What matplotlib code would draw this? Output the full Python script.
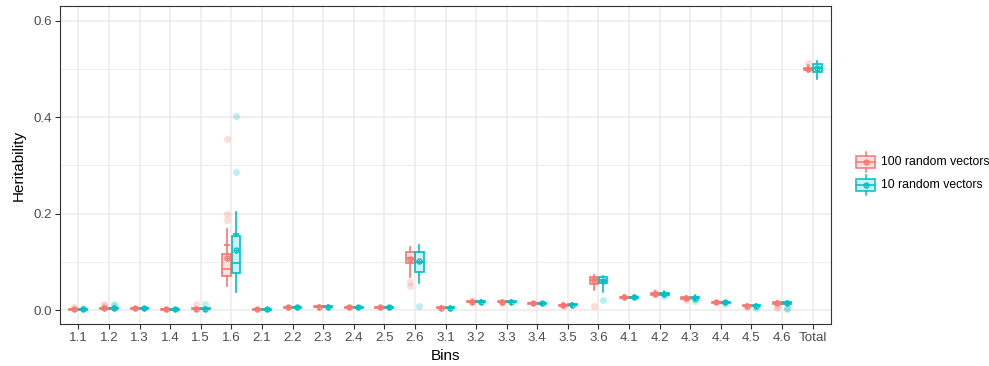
import matplotlib
matplotlib.use("Agg")
import matplotlib.pyplot as plt
from matplotlib.patches import Rectangle
from matplotlib.lines import Line2D

plt.rcParams['font.family'] = ['Liberation Sans', 'DejaVu Sans']

cats = ['1.1','1.2','1.3','1.4','1.5','1.6','2.1','2.2','2.3','2.4','2.5','2.6',
        '3.1','3.2','3.3','3.4','3.5','3.6','4.1','4.2','4.3','4.4','4.5','4.6','Total']
groups = ['100 random vectors', '10 random vectors']
colors = ['#F8766D', '#00BFC4']

# 100 random vectors
red_med = [0.002,0.004,0.004,0.002,0.003,0.085,0.002,0.006,0.007,0.006,0.006,0.109,0.005,0.017,0.017,0.014,0.010,0.062,0.027,0.034,0.025,0.016,0.009,0.015,0.501]
red_q1  = [0.001,0.003,0.003,0.001,0.002,0.070,0.001,0.005,0.006,0.005,0.005,0.097,0.004,0.016,0.016,0.013,0.009,0.055,0.026,0.032,0.023,0.015,0.008,0.013,0.499]
red_q3  = [0.003,0.005,0.005,0.003,0.004,0.117,0.003,0.007,0.008,0.007,0.007,0.120,0.006,0.018,0.018,0.015,0.011,0.068,0.028,0.036,0.027,0.017,0.010,0.017,0.503]
red_lo  = [0.000,0.000,0.001,0.000,0.000,0.049,0.000,0.003,0.004,0.003,0.003,0.068,0.002,0.014,0.014,0.011,0.006,0.041,0.024,0.029,0.021,0.013,0.006,0.011,0.495]
red_hi  = [0.005,0.008,0.007,0.005,0.006,0.169,0.005,0.009,0.010,0.009,0.009,0.130,0.008,0.021,0.021,0.017,0.014,0.072,0.031,0.039,0.029,0.019,0.012,0.019,0.508]
red_mean= [0.002,0.004,0.004,0.002,0.003,0.107,0.002,0.006,0.007,0.006,0.006,0.106,0.005,0.017,0.017,0.014,0.010,0.062,0.027,0.034,0.025,0.016,0.009,0.015,0.501]
red_pts = [[0.006],[0.012,0.009],[],[],[0.012],[0.355,0.200,0.186,0.110],[],[],[],[],[],[0.058,0.050],
           [],[0.020],[0.015],[],[0.008],[0.008],[],[0.037],[0.021],[],[0.006],[0.008,0.004],[0.513]]
red_plus = [None]*5 + [0.134] + [None]*19

# 10 random vectors
cy_med = [0.002,0.004,0.004,0.002,0.003,0.097,0.002,0.006,0.007,0.006,0.006,0.099,0.005,0.017,0.017,0.014,0.011,0.062,0.027,0.034,0.026,0.016,0.009,0.015,0.502]
cy_q1  = [0.001,0.003,0.003,0.001,0.002,0.076,0.001,0.005,0.006,0.005,0.005,0.078,0.004,0.016,0.016,0.013,0.010,0.056,0.026,0.032,0.024,0.015,0.008,0.013,0.495]
cy_q3  = [0.003,0.005,0.005,0.003,0.004,0.153,0.003,0.007,0.008,0.007,0.007,0.120,0.006,0.018,0.018,0.015,0.012,0.068,0.028,0.036,0.028,0.017,0.010,0.017,0.511]
cy_lo  = [0.000,0.000,0.001,0.000,0.000,0.037,0.000,0.003,0.004,0.003,0.003,0.056,0.002,0.014,0.014,0.011,0.007,0.037,0.024,0.029,0.021,0.013,0.006,0.011,0.480]
cy_hi  = [0.005,0.008,0.007,0.005,0.006,0.204,0.005,0.009,0.010,0.009,0.009,0.134,0.008,0.021,0.021,0.017,0.015,0.071,0.031,0.039,0.031,0.019,0.012,0.019,0.517]
cy_mean= [0.002,0.004,0.004,0.002,0.003,0.124,0.002,0.006,0.007,0.006,0.006,0.101,0.005,0.017,0.017,0.014,0.011,0.061,0.027,0.034,0.026,0.016,0.009,0.015,0.503]
cy_pts = [[0.005],[0.012,0.008],[],[],[0.012],[0.402,0.287],[],[],[],[],[],[0.008],
          [],[],[],[],[],[0.021],[],[0.030],[0.022,0.018],[0.012],[0.005],[0.005,0.002],[]]
cy_plus = [None]*5 + [0.157] + [None]*19

series = [
    (red_med, red_q1, red_q3, red_lo, red_hi, red_mean, red_pts, red_plus),
    (cy_med, cy_q1, cy_q3, cy_lo, cy_hi, cy_mean, cy_pts, cy_plus),
]

W, H = 989, 366
fig = plt.figure(figsize=(W/100, H/100), dpi=100)
L, R, T, B = 60, 831, 6, 324
ax = fig.add_axes([L/W, 1 - B/H, (R-L)/W, (B-T)/H])

offsets = [-0.15, 0.15]
bw = 0.28
tick_col = '#4D4D4D'

for g, (med, q1, q3, lo, hi, mean, pts, plus) in enumerate(series):
    col = colors[g]
    pos = [i + offsets[g] for i in range(len(cats))]
    for i, pl in enumerate(pts):
        if pl:
            ax.scatter([pos[i]]*len(pl), pl, s=26, color=col, alpha=0.25, linewidths=0, zorder=2)
    stats = [dict(med=med[i], q1=q1[i], q3=q3[i], whislo=lo[i], whishi=hi[i], fliers=[])
             for i in range(len(cats))]
    ax.bxp(stats, positions=pos, widths=bw, patch_artist=True, showcaps=False,
           showfliers=False, manage_ticks=False,
           boxprops=dict(facecolor=matplotlib.colors.to_rgba(col, 0.2), edgecolor=col, linewidth=1.2),
           medianprops=dict(color=col, linewidth=1.2),
           whiskerprops=dict(color=col, linewidth=1.2), zorder=3)
    ax.plot(pos, mean, linestyle='none', marker='o', markersize=3.6, markerfacecolor='none',
            markeredgecolor=col, markeredgewidth=0.9, zorder=4)
    ax.plot(pos, mean, linestyle='none', marker='+', markersize=3.6, color=col,
            markeredgewidth=0.9, zorder=4)
    px = [pos[i] for i in range(len(cats)) if plus[i] is not None]
    py = [p for p in plus if p is not None]
    ax.plot(px, py, linestyle='none', marker='_', markersize=5, color=col, markeredgewidth=1.2, zorder=4)

ax.set_xlim(-0.6, len(cats) - 0.4)
ax.set_ylim(-0.029, 0.631)
ax.set_xticks(range(len(cats)))
ax.set_xticklabels(cats)
ax.set_yticks([0.0, 0.2, 0.4, 0.6])
ax.set_yticklabels(['0.0', '0.2', '0.4', '0.6'])
ax.set_yticks([0.1, 0.3, 0.5], minor=True)
ax.grid(True, which='major', color='#EBEBEB', linewidth=1.1, zorder=0)
ax.grid(True, which='minor', axis='y', color='#EBEBEB', linewidth=0.6, zorder=0)
ax.set_axisbelow(True)
for s in ax.spines.values():
    s.set_color('#333333'); s.set_linewidth(0.8)
ax.tick_params(axis='both', which='major', colors='#333333', labelcolor=tick_col, labelsize=9.6,
               length=3.5, width=0.8, pad=2.5)
ax.tick_params(axis='both', which='minor', length=0)
ax.set_xlabel('Bins', fontsize=11, color='black', labelpad=3)
ax.set_ylabel('Heritability', fontsize=11, color='black', labelpad=5)

# legend drawn manually
lax = fig.add_axes([0, 0, 1, 1])
lax.set_xlim(0, W); lax.set_ylim(H, 0); lax.axis('off')
ycs = [162, 185]
for g in range(2):
    col = colors[g]
    yc = ycs[g]
    lax.add_patch(Rectangle((856, yc-6), 19, 12, facecolor=matplotlib.colors.to_rgba(col, 0.2),
                            edgecolor=col, linewidth=1.1))
    lax.add_line(Line2D([856, 875], [yc, yc], color=col, linewidth=1.1))
    lax.add_line(Line2D([865.5, 865.5], [yc-10, yc-6], color=col, linewidth=1.1))
    lax.add_line(Line2D([865.5, 865.5], [yc+6, yc+10], color=col, linewidth=1.1))
    lax.plot([865.5], [yc], marker='o', markersize=3.6, markerfacecolor='none', markeredgecolor=col,
             markeredgewidth=0.9)
    lax.plot([865.5], [yc], marker='+', markersize=3.6, color=col, markeredgewidth=0.9)
    lax.text(881, yc, groups[g], fontsize=8.8, color='black', va='center', ha='left')

fig.savefig('out.png', dpi=100)
